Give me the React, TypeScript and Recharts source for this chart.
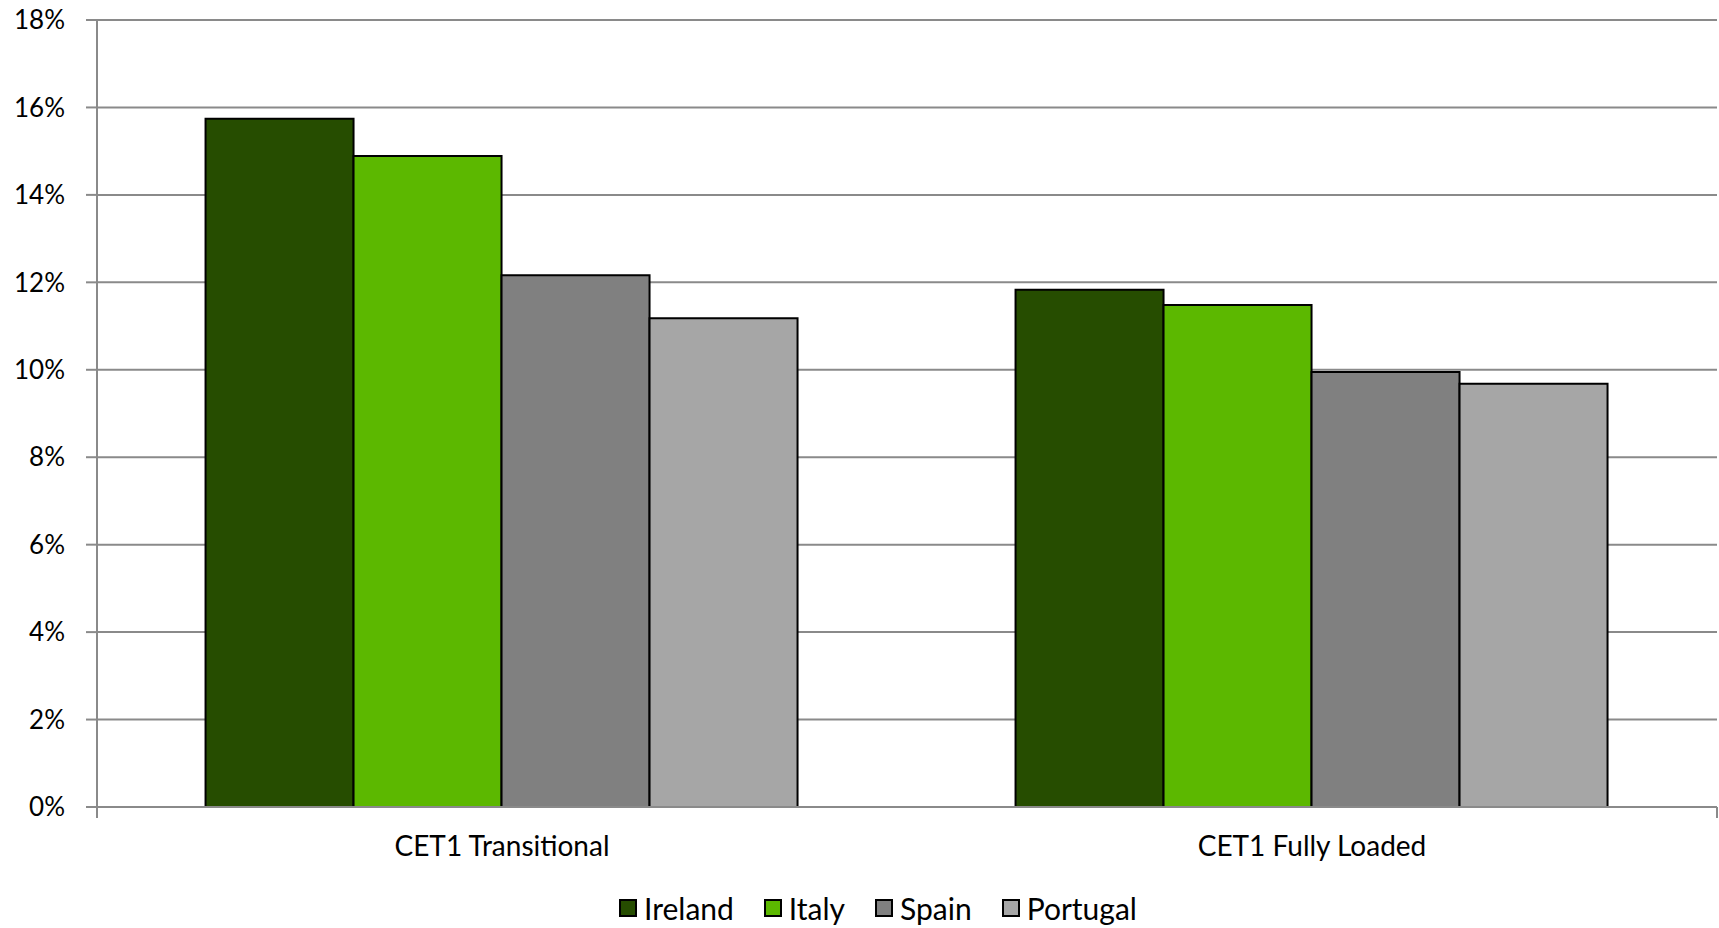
import React from 'react';
import { BarChart, Bar, XAxis, YAxis, CartesianGrid, Legend } from 'recharts';

const categories = ['CET1 Transitional', 'CET1 Fully Loaded'];
const ireland = [15.74, 11.83];
const italy = [14.89, 11.48];
const spain = [12.16, 9.95];
const portugal = [11.18, 9.68];
const yTicks = [0, 2, 4, 6, 8, 10, 12, 14, 16, 18];
const edgeTicks = [0, 1, 2];

const series = [
  { key: 'Ireland', values: ireland, color: '#264d00' },
  { key: 'Italy', values: italy, color: '#5cb800' },
  { key: 'Spain', values: spain, color: '#808080' },
  { key: 'Portugal', values: portugal, color: '#a6a6a6' },
];

const data = categories.map((c, i) => {
  const row: Record<string, string | number> = { name: c };
  series.forEach((s) => {
    row[s.key] = s.values[i];
  });
  return row;
});

const FONT = 'Lato, "Open Sans", sans-serif';
const GRID = '#8a8a8a';

const LegendContent = () => (
  <div style={{ display: 'flex', alignItems: 'center', fontFamily: FONT, fontSize: 30, color: '#000', whiteSpace: 'nowrap' }}>
    {series.map((s, i) => (
      <div key={s.key} style={{ display: 'flex', alignItems: 'center', marginRight: i < series.length - 1 ? 30 : 0 }}>
        <div style={{ width: 14, height: 14, background: s.color, border: '2px solid #000', marginRight: 7 }} />
        <span>{s.key}</span>
      </div>
    ))}
  </div>
);

const EmptyTick = () => <g />;

export default function App() {
  return (
    <div style={{ position: 'absolute', left: 0, top: 0, width: 1719, height: 928, background: '#fff' }}>
      <BarChart
        width={1719}
        height={928}
        data={data}
        margin={{ top: 20, right: 2, left: 0, bottom: 0 }}
        barCategoryGap="13.4%"
        barGap={0}
      >
        <CartesianGrid vertical={false} stroke={GRID} strokeWidth={2} xAxisId={1} />
        <XAxis
          xAxisId={0}
          type="number"
          domain={[0, 2]}
          ticks={edgeTicks}
          interval={0}
          allowDataOverflow
          height={1}
          tick={EmptyTick}
          tickSize={11}
          tickLine={{ stroke: GRID, strokeWidth: 2 }}
          axisLine={{ stroke: GRID, strokeWidth: 2 }}
        />
        <XAxis
          xAxisId={1}
          dataKey="name"
          height={120}
          axisLine={false}
          tickLine={false}
          tickSize={0}
          tickMargin={28}
          tick={{ fill: '#000', fontSize: 28, fontFamily: FONT }}
        />
        <YAxis
          width={97}
          domain={[0, 18]}
          ticks={yTicks}
          tickFormatter={(v: number) => `${v}%`}
          tickSize={11}
          tickMargin={21}
          tickLine={{ stroke: GRID, strokeWidth: 2 }}
          axisLine={{ stroke: GRID, strokeWidth: 2 }}
          tick={{ fill: '#000', fontSize: 26, fontFamily: FONT }}
        />
        <Legend
          layout="horizontal"
          verticalAlign="middle"
          align="center"
          content={<LegendContent />}
          wrapperStyle={{ top: 890, left: 619, width: 'auto' }}
        />
        {series.map((s) => (
          <Bar
            key={s.key}
            xAxisId={1}
            dataKey={s.key}
            fill={s.color}
            stroke="#000"
            strokeWidth={2}
            isAnimationActive={false}
          />
        ))}
      </BarChart>
    </div>
  );
}
